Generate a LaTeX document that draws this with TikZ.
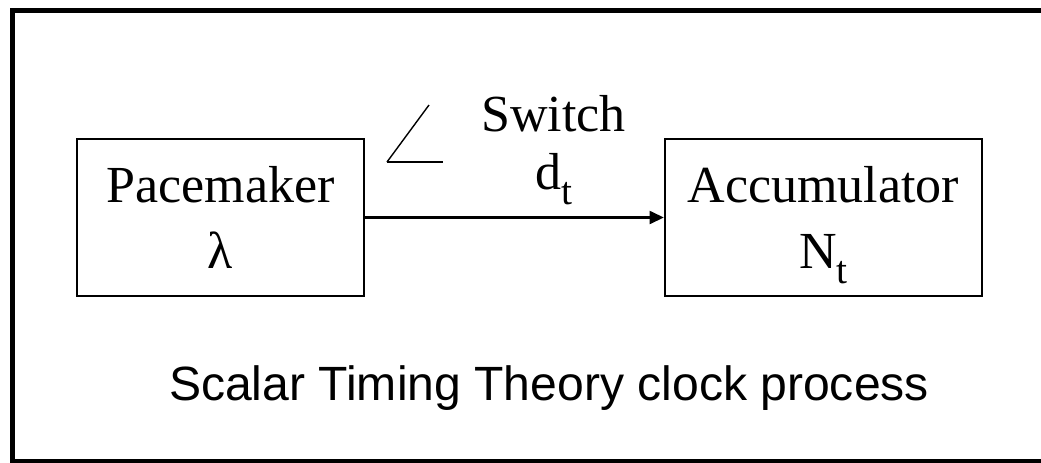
\documentclass[tikz,border=0pt]{standalone}
\usepackage{fontspec}
\setmainfont{Liberation Serif}
\newfontfamily\capfont{Liberation Sans}
\usetikzlibrary{positioning,arrows.meta}
\newcommand{\tallline}{\rule{0pt}{1.3cm}}
\newcommand{\lowidx}[1]{\raisebox{-10.5pt}{\fontsize{28}{28}\selectfont #1}}

\begin{document}
\begin{tikzpicture}[x=0.025cm, y=-0.025cm,
  box/.style={draw, line width=1.2pt, align=center, minimum height=3.925cm, inner sep=0pt,
    font=\fontsize{37}{47}\selectfont},
  arr/.style={-{Triangle[length=0.36cm, width=0.32cm]}, line width=2pt},
  lbl/.style={align=center, font=\fontsize{37}{41}\selectfont}]
\useasboundingbox (0,0) rectangle (1041,462);
\clip (0,0) rectangle (1041,462);
\draw[line width=0.125cm] (12.5,10) rectangle (1100,461.5);
\node[box, minimum width=7.175cm] (pm) at (220.5,217.5) {\tallline Pacemaker\\λ\vphantom{N\lowidx{t}}};
\node[box, minimum width=7.925cm, right=7.475cm of pm] (acc) {\tallline Accumulator\\N\lowidx{t}};
\draw[arr] (pm) -- (acc);
% switch symbol
\coordinate (pivot) at (387,162);
\draw[line width=1pt] (pivot) -- ++(56,0);
\draw[line width=1pt] (pivot) -- ++(42,-57);
\node[lbl] (sw) at (553.5,150) {Switch\\d\lowidx{t}};
\node[font=\capfont\fontsize{34.2}{40}\selectfont, anchor=base] (cap) at (549,400) {Scalar Timing Theory clock process};
\end{tikzpicture}
\end{document}
